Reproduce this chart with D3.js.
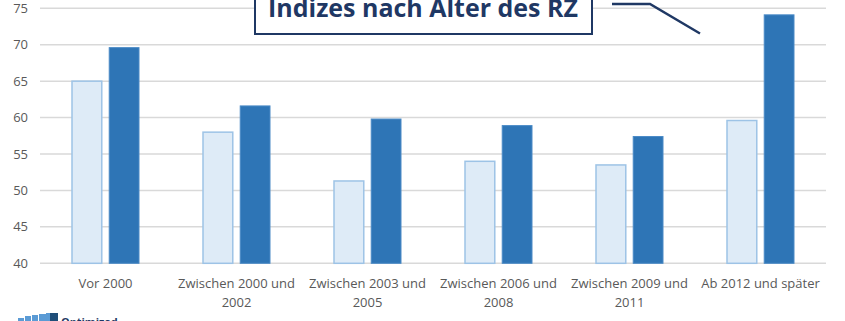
<!DOCTYPE html>
<html><head><meta charset="utf-8">
<script src="https://cdn.jsdelivr.net/npm/d3@7"></script>
<style>html,body{margin:0;padding:0;background:#fff;overflow:hidden}</style>
</head><body>
<svg id="c" width="845" height="321"></svg>
<script>
const categories = [["Vor 2000"],["Zwischen 2000 und","2002"],["Zwischen 2003 und","2005"],["Zwischen 2006 und","2008"],["Zwischen 2009 und","2011"],["Ab 2012 und später"]];
const seriesA = [65.0, 58.0, 51.3, 54.0, 53.5, 59.6];
const seriesB = [69.6, 61.6, 59.8, 58.9, 57.4, 74.1];
const yTicks = [40, 45, 50, 55, 60, 65, 70, 75];
const titleText = "Indizes nach Alter des RZ";

(function(){
const svg = d3.select("#c");
const mLeft = 40, mRight = 826, mTop = 8.3, mBottom = 263.3;
const y = d3.scaleLinear().domain([40, 75]).range([mBottom, mTop]);
const x = d3.scaleBand().domain(d3.range(categories.length)).range([mLeft, mRight]).paddingInner(0).paddingOuter(0);
const x1 = d3.scaleBand().domain([0,1]).range([0, 67]).paddingInner(0.2);

// gridlines
svg.append("g").selectAll("line").data(yTicks).join("line")
  .attr("x1", mLeft).attr("x2", mRight)
  .attr("y1", d => y(d)).attr("y2", d => y(d))
  .attr("stroke", "#d9d9d9").attr("stroke-width", 1.5);

// y labels
svg.append("g").selectAll("text").data(yTicks).join("text")
  .attr("x", 28).attr("y", d => y(d) + 4.5)
  .attr("text-anchor", "end")
  .attr("font-family", "Open Sans, sans-serif").attr("font-size", 13)
  .attr("fill", "#595959").text(d => d);

// bars
const g = svg.append("g").selectAll("g").data(categories.map((c,i)=>i)).join("g")
  .attr("transform", i => `translate(${x(i) + x.bandwidth()/2 - 33.5},0)`);
g.append("rect")
  .attr("x", x1(0)).attr("width", x1.bandwidth())
  .attr("y", i => y(seriesA[i])).attr("height", i => y(40) - y(seriesA[i]))
  .attr("fill", "#deebf7").attr("stroke", "#9dc3e6").attr("stroke-width", 1.5);
g.append("rect")
  .attr("x", x1(1)).attr("width", x1.bandwidth())
  .attr("y", i => y(seriesB[i])).attr("height", i => y(40) - y(seriesB[i]))
  .attr("fill", "#2e75b6").attr("stroke", "#4a8ac6").attr("stroke-width", 1);

// x labels
svg.append("g").selectAll("text").data(categories.map((c,i)=>i)).join("text")
  .attr("x", i => x(i) + x.bandwidth()/2)
  .attr("text-anchor", "middle")
  .attr("font-family", "Open Sans, sans-serif").attr("font-size", 13)
  .attr("fill", "#595959")
  .each(function(i){
    const t = d3.select(this);
    categories[i].forEach((line, k) => {
      t.append("tspan").attr("x", x(i) + x.bandwidth()/2).attr("y", 288 + k*19).text(line);
    });
  });

// title box
svg.append("rect").attr("x", 255).attr("y", -10).attr("width", 337).attr("height", 44)
  .attr("fill", "#fff").attr("stroke", "#1f3864").attr("stroke-width", 2);
const tt = svg.append("text").attr("x", 423).attr("y", 16.5).attr("text-anchor", "middle")
  .attr("font-family", "Open Sans, sans-serif").attr("font-weight", "bold").attr("font-size", 22)
  .attr("fill", "#1f3864").text(titleText);
const w = tt.node().getComputedTextLength();
tt.attr("font-size", 22 * 310 / w);

// callout line
svg.append("path").attr("d", "M612,4 L650,4 L700,33.5")
  .attr("fill", "none").attr("stroke", "#1f3864").attr("stroke-width", 2.5);

// logo (partially visible)
const logo = svg.append("g");
[[18,318,6],[25,316,6],[32,315,6],[39,314,7],[46,313,4]].forEach(d => {
  logo.append("rect").attr("x", d[0]).attr("y", d[1]).attr("width", d[2]).attr("height", 321 - d[1]).attr("fill", "#5b9bd5");
});
logo.append("rect").attr("x", 50).attr("y", 313).attr("width", 8).attr("height", 8).attr("fill", "#1f4e79");
logo.append("text").attr("x", 61).attr("y", 326).attr("font-family", "Open Sans, sans-serif")
  .attr("font-weight", "bold").attr("font-size", 11).attr("fill", "#1f3864").text("Optimized");
})();
</script>
</body></html>
